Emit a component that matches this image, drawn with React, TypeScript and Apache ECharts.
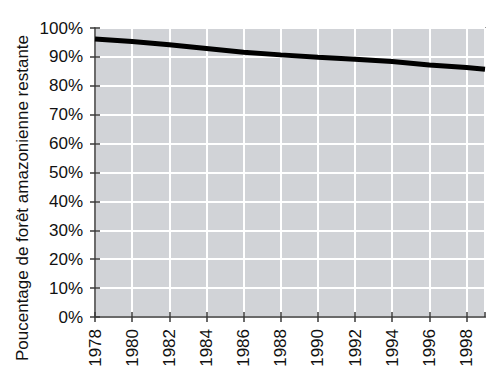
import React, { useEffect, useRef } from "react";
import * as echarts from "echarts";

const years = [1978, 1980, 1982, 1984, 1986, 1988, 1990, 1992, 1994, 1996, 1998, 1999];
const forestPct = [96.2, 95.3, 94.2, 92.9, 91.6, 90.7, 89.9, 89.2, 88.4, 87.2, 86.3, 85.7];
const yTicks = [0, 10, 20, 30, 40, 50, 60, 70, 80, 90, 100];
const yTitle = "Poucentage de forêt amazonienne restante";

const FONT = "'Liberation Sans', Arial, Helvetica, sans-serif";

export default function App() {
  const ref = useRef<HTMLDivElement>(null);
  useEffect(() => {
    if (!ref.current) return;
    const chart = echarts.init(ref.current, undefined, { renderer: "svg" });
    const xBase = {
      type: "value" as const,
      min: 1978,
      max: 1999,
      interval: 2,
    };
    const yBase = {
      type: "value" as const,
      min: yTicks[0],
      max: yTicks[yTicks.length - 1],
      interval: 10,
    };
    chart.setOption({
      animation: false,
      backgroundColor: "#ffffff",
      grid: {
        left: 95,
        right: 15,
        top: 28,
        bottom: 62,
        show: true,
        backgroundColor: "#d1d3d7",
        borderColor: "#4a4a4a",
        borderWidth: 1.5,
      },
      xAxis: [
        {
          ...xBase,
          axisLine: { show: true, onZero: false, lineStyle: { color: "#3a3a3a", width: 1.5 } },
          axisTick: { show: true, inside: false, length: 5, lineStyle: { color: "#3a3a3a", width: 1.5 } },
          axisLabel: {
            rotate: 90,
            margin: 12,
            fontSize: 17,
            color: "#111",
            fontFamily: FONT,
            showMaxLabel: false,
            formatter: (v: number) => (v === 1999 ? "" : String(v)),
          },
          splitLine: { show: true, lineStyle: { color: "#ffffff", width: 2 } },
        },
        {
          ...xBase,
          position: "bottom",
          axisLine: { show: false },
          axisTick: { show: true, inside: true, length: 5, lineStyle: { color: "#3a3a3a", width: 1.5 } },
          axisLabel: { show: false },
          splitLine: { show: false },
        },
      ],
      yAxis: [
        {
          ...yBase,
          axisLine: { show: true, onZero: false, lineStyle: { color: "#3a3a3a", width: 1.5 } },
          axisTick: { show: true, inside: false, length: 5, lineStyle: { color: "#3a3a3a", width: 1.5 } },
          axisLabel: {
            margin: 12,
            fontSize: 17,
            color: "#111",
            fontFamily: FONT,
            formatter: (v: number) => v + "%",
          },
          splitLine: { show: true, lineStyle: { color: "#ffffff", width: 2 } },
        },
        {
          ...yBase,
          position: "left",
          axisLine: { show: false },
          axisTick: { show: true, inside: true, length: 5, lineStyle: { color: "#3a3a3a", width: 1.5 } },
          axisLabel: { show: false },
          splitLine: { show: false },
        },
      ],
      graphic: [
        {
          type: "text",
          x: 22,
          y: 198,
          rotation: Math.PI / 2,
          style: {
            text: yTitle,
            fontSize: 17,
            fontFamily: FONT,
            fill: "#111",
            align: "center",
            verticalAlign: "middle",
          },
        },
      ],
      series: [
        {
          type: "line",
          xAxisIndex: 0,
          yAxisIndex: 0,
          data: years.map((y, i) => [y, forestPct[i]]),
          showSymbol: false,
          symbol: "none",
          lineStyle: { color: "#000", width: 5, cap: "butt" },
          z: 5,
        },
      ],
    });
    return () => chart.dispose();
  }, []);
  return <div ref={ref} style={{ width: 500, height: 379, position: "absolute", left: 0, top: 0 }} />;
}
